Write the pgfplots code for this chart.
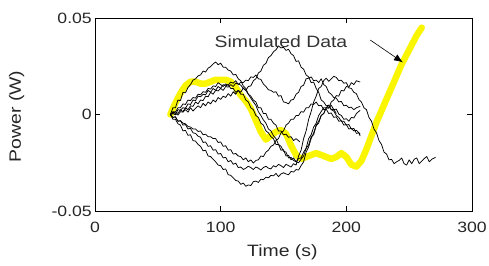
\documentclass[border=0pt]{standalone}
\usepackage{pgfplots}
\pgfplotsset{compat=1.18}
\usepackage{fontspec}
\setmainfont{Liberation Sans}[FakeStretch=1.18]
\usetikzlibrary{arrows.meta}
\begin{document}
\begin{tikzpicture}
\useasboundingbox (0,0) rectangle (489bp,266bp);
\begin{axis}[
  at={(95bp,55bp)}, anchor=south west,
  scale only axis, width=377bp, height=193bp,
  xmin=0, xmax=300, ymin=-0.05, ymax=0.05,
  scaled y ticks=false, scaled x ticks=false,
  xtick={0,100,200,300}, ytick={-0.05,0,0.05},
  xticklabels={0,100,200,300}, yticklabels={-0.05,0,0.05},
  tick align=inside, major tick length=5bp,
  tick style={black, line width=0.6bp},
  axis line style={black, line width=0.8bp},
  xticklabel style={anchor=north, inner sep=0pt, yshift=-11bp, text=black!85, font=\fontsize{15}{15}\selectfont},
  yticklabel style={anchor=east, inner sep=0pt, xshift=-3bp, text=black!85, font=\fontsize{15}{15}\selectfont},
  /pgf/number format/assume math mode=true,
  xlabel={Time (s)}, ylabel={Power (W)},
  xlabel style={at={(axis description cs:0.497,-0.212)}, anchor=center, inner sep=0pt, text=black!85, font=\fontsize{16.5}{16.5}\selectfont},
  ylabel style={at={(axis description cs:-0.208,0.49)}, anchor=center, inner sep=0pt, text=black!85, font=\fontsize{16.5}{16.5}\selectfont},
  every axis plot/.append style={no markers, line join=round},
  clip=false,
]
% simulated data (yellow)
\addplot[color={rgb,255:red,250;green,245;blue,0}, line width=6.5bp, line cap=round] coordinates {
(60,0)(64,.006)(68,.011)(72,.015)(76,.017)(80,.017)(84,.016)(88,.016)(92,.017)(96,.018)(100,.018)(104,.018)(108,.017)(112,.014)(116,.010)(120,.007)(124,.003)(128,-.003)(132,-.009)(136,-.013)(140,-.011)(144,-.009)(148,-.008)(152,-.010)(156,-.016)(160,-.021)(164,-.023)(168,-.022)(172,-.021)(176,-.020)(180,-.021)(184,-.022)(188,-.023)(192,-.022)(196,-.020)(200,-.022)(204,-.026)(208,-.027)(212,-.024)(216,-.018)(220,-.011)(224,-.004)(228,.002)(232,.008)(236,.014)(240,.020)(244,.026)(248,.031)(252,.036)(256,.041)(260,.045)
};
% C1
\addplot[black, line width=0.75bp] coordinates {
(60,0)(62,.0035)(64,.0035)(66,.0075)(68,.0072)(70,.0115)(72,.0112)(74,.0140)(76,.0155)(78,.0178)(80,.0185)(82,.0200)(84,.0205)(86,.0225)(88,.0220)(90,.0240)(92,.0248)(94,.0262)(96,.0272)(98,.0258)(100,.0266)(102,.0245)(104,.0245)(106,.0230)(108,.0225)(110,.0205)(112,.0208)(114,.0185)(116,.0175)(118,.0148)(120,.0135)(122,.0105)(124,.0085)(126,.0065)(128,.0048)(130,.0015)(132,-.0005)(134,-.0028)(136,-.0045)(138,-.0075)(140,-.0085)(142,-.0110)(144,-.0125)(146,-.0155)(148,-.0165)(150,-.0190)(152,-.0195)(154,-.0225)(156,-.0222)(158,-.0238)(160,-.0245)(162,-.0250)(164,-.0232)(166,-.0215)(168,-.0175)(170,-.0158)(172,-.0115)(174,-.0105)(176,-.0058)(178,-.0045)(180,-.0005)(182,.0005)(184,.0035)(186,.0032)(188,.0065)(190,.0075)(192,.0098)(194,.0095)(196,.0125)(198,.0122)(200,.0145)(202,.0142)(204,.0165)(206,.0155)(208,.0175)(211,.0168)
};
% C2
\addplot[black, line width=0.75bp] coordinates {
(60,0)(62,-.0025)(64,-.0025)(66,-.0048)(68,-.0055)(70,-.0085)(72,-.0082)(74,-.0108)(76,-.0105)(78,-.0135)(80,-.0138)(82,-.0155)(84,-.0165)(86,-.0188)(88,-.0185)(90,-.0215)(92,-.0218)(94,-.0232)(96,-.0245)(98,-.0262)(100,-.0265)(102,-.0285)(104,-.0282)(106,-.0312)(108,-.0315)(110,-.0328)(112,-.0342)(114,-.0345)(116,-.0362)(118,-.0355)(120,-.0372)(122,-.0365)(124,-.0368)(126,-.0348)(128,-.0345)(130,-.0352)(132,-.0335)(134,-.0338)(136,-.0325)(138,-.0328)(140,-.0315)(142,-.0318)(144,-.0305)(146,-.0322)(148,-.0308)(150,-.0302)(152,-.0308)(154,-.0312)(156,-.0295)(158,-.0298)(160,-.0285)(162,-.0288)(164,-.0265)(166,-.0245)(168,-.0195)(170,-.0168)(172,-.0125)(174,-.0095)(176,-.0055)(178,-.0035)(180,-.0005)(182,.0005)(184,.0035)(186,.0035)(188,.0048)(190,.0025)(192,.0028)(194,.0002)(196,-.0005)(198,-.0025)(200,-.0022)(202,-.0035)(204,-.0015)(206,-.0018)(208,.0005)(211,.0022)
};
% C3 (long)
\addplot[black, line width=0.75bp] coordinates {
(60,0)(62,-.0015)(64,-.0012)(66,-.0035)(68,-.0032)(70,-.0055)(72,-.0052)(74,-.0075)(76,-.0072)(78,-.0095)(80,-.0098)(82,-.0112)(84,-.0118)(86,-.0145)(88,-.0142)(90,-.0165)(92,-.0162)(94,-.0185)(96,-.0182)(98,-.0205)(100,-.0202)(102,-.0225)(104,-.0222)(106,-.0245)(108,-.0238)(110,-.0258)(112,-.0252)(114,-.0275)(116,-.0272)(118,-.0285)(120,-.0278)(122,-.0268)(124,-.0275)(126,-.0285)(128,-.0272)(130,-.0278)(132,-.0288)(134,-.0275)(136,-.0268)(138,-.0278)(140,-.0282)(142,-.0265)(144,-.0272)(146,-.0258)(148,-.0265)(150,-.0275)(152,-.0258)(154,-.0265)(156,-.0272)(158,-.0255)(160,-.0262)(162,-.0215)(164,-.0185)(166,-.0125)(168,-.0085)(170,-.0025)(172,.0015)(174,.0065)(176,.0095)(178,.0135)(180,.0145)(182,.0175)(184,.0188)(186,.0172)(188,.0185)(190,.0198)(192,.0192)(194,.0175)(196,.0178)(198,.0162)(200,.0165)(202,.0138)(204,.0135)(206,.0115)(208,.0108)(210,.0078)(212,.0065)(214,.0035)(216,.0025)(218,-.0015)(220,-.0035)(222,-.0075)(224,-.0095)(226,-.0135)(228,-.0155)(230,-.0195)(232,-.0205)(234,-.0235)(236,-.0232)(238,-.0255)(240,-.0245)(242,-.0238)(244,-.0225)(246,-.0255)(248,-.0262)(250,-.0235)(252,-.0255)(254,-.0232)(256,-.0225)(258,-.0255)(260,-.0242)(262,-.0228)(264,-.0218)(266,-.0245)(268,-.0232)(271,-.0222)
};
% C4 (peak near 147)
\addplot[black, line width=0.75bp] coordinates {
(60,0)(62,.0012)(64,.0005)(66,-.0003)(68,.0015)(70,.0012)(72,.0025)(74,.0012)(76,.0035)(78,.0018)(80,.0032)(82,.0045)(84,.0035)(86,.0058)(88,.0045)(90,.0065)(92,.0055)(94,.0075)(96,.0065)(98,.0088)(100,.0078)(102,.0095)(104,.0088)(106,.0108)(108,.0095)(110,.0118)(112,.0105)(114,.0125)(116,.0115)(118,.0138)(120,.0125)(122,.0145)(124,.0148)(126,.0175)(128,.0185)(130,.0215)(132,.0225)(134,.0255)(136,.0265)(138,.0295)(140,.0305)(142,.0325)(144,.0335)(146,.0355)(148,.0345)(150,.0348)(152,.0332)(154,.0338)(156,.0315)(158,.0305)(160,.0275)(162,.0278)(164,.0245)(166,.0235)(168,.0205)(170,.0195)(172,.0165)(174,.0168)(176,.0135)(178,.0115)(180,.0075)(182,.0065)(184,.0045)(186,.0048)(188,.0025)(190,.0018)(192,-.0005)(194,-.0015)(196,-.0035)(198,-.0035)(200,-.0055)(202,-.0052)(204,-.0075)(206,-.0072)(208,-.0098)(210,-.0095)(211,-.0112)
};
% C5
\addplot[black, line width=0.75bp] coordinates {
(60,0)(62,.0015)(64,.0012)(66,.0035)(68,.0035)(70,.0055)(72,.0052)(74,.0075)(76,.0072)(78,.0088)(80,.0085)(82,.0105)(84,.0102)(86,.0118)(88,.0115)(90,.0135)(92,.0132)(94,.0148)(96,.0145)(98,.0165)(100,.0155)(102,.0145)(104,.0158)(106,.0152)(108,.0168)(110,.0162)(112,.0175)(114,.0155)(116,.0168)(118,.0165)(120,.0178)(122,.0175)(124,.0195)(126,.0192)(128,.0205)(130,.0185)(132,.0182)(134,.0158)(136,.0145)(138,.0128)(140,.0125)(142,.0115)(144,.0118)(146,.0095)(148,.0098)(150,.0065)(152,.0062)(154,.0055)(156,.0075)(158,.0078)(160,.0105)(162,.0115)(164,.0145)(166,.0152)(168,.0185)(170,.0188)(172,.0195)(174,.0175)(176,.0178)(178,.0165)(180,.0185)(182,.0155)(184,.0145)(186,.0115)(188,.0105)(190,.0088)(192,.0085)(194,.0065)(196,.0068)(198,.0045)(200,.0048)(202,.0035)(204,.0038)(206,.0025)(208,.0035)(211,.0042)
};
% C6
\addplot[black, line width=0.75bp] coordinates {
(60,0)(62,.0005)(64,.0015)(66,.0005)(68,.0025)(70,.0015)(72,.0035)(74,.0025)(76,.0045)(78,.0042)(80,.0065)(82,.0055)(84,.0075)(86,.0072)(88,.0095)(90,.0092)(92,.0115)(94,.0105)(96,.0125)(98,.0122)(100,.0135)(102,.0125)(104,.0145)(106,.0142)(108,.0155)(110,.0145)(112,.0162)(114,.0158)(116,.0152)(118,.0135)(120,.0125)(122,.0105)(124,.0095)(126,.0075)(128,.0065)(130,.0035)(132,.0035)(134,.0005)(136,.0005)(138,-.0025)(140,-.0025)(142,-.0045)(144,-.0055)(146,-.0085)(148,-.0085)(150,-.0105)(152,-.0102)(154,-.0118)(156,-.0115)(158,-.0135)(160,-.0125)(163,-.0142)
};
% C7
\addplot[black, line width=0.75bp] coordinates {
(60,0)(62,-.0015)(64,-.0012)(66,-.0035)(68,-.0032)(70,-.0045)(72,-.0048)(74,-.0062)(76,-.0065)(78,-.0075)(80,-.0075)(82,-.0088)(84,-.0085)(86,-.0105)(88,-.0102)(90,-.0115)(92,-.0115)(94,-.0125)(96,-.0125)(98,-.0145)(100,-.0142)(102,-.0165)(104,-.0162)(106,-.0185)(108,-.0182)(110,-.0205)(112,-.0202)(114,-.0215)(116,-.0218)(118,-.0235)(120,-.0225)(122,-.0245)(124,-.0235)(126,-.0252)(128,-.0238)(130,-.0235)(132,-.0215)(134,-.0218)(136,-.0195)(138,-.0185)(140,-.0165)(142,-.0158)(144,-.0135)(146,-.0125)(148,-.0095)(150,-.0085)(152,-.0055)(154,-.0045)(156,-.0025)(158,-.0025)(160,-.0005)(162,-.0005)(164,.0015)(166,.0012)(168,.0035)(170,.0035)(172,.0055)(174,.0052)(176,.0065)(178,.0045)(180,.0048)(182,.0025)(184,.0028)(186,.0005)(188,.0008)(190,-.0015)(192,-.0012)(194,-.0035)(196,-.0032)(198,-.0055)(200,-.0052)(202,-.0075)(204,-.0072)(206,-.0085)(208,-.0082)(211,-.0102)
};
% C8
\addplot[black, line width=0.75bp] coordinates {
(60,0)(62,.0005)(64,-.0002)(66,.0025)(68,.0022)(70,.0035)(72,.0032)(74,.0055)(76,.0052)(78,.0075)(80,.0072)(82,.0095)(84,.0092)(86,.0105)(88,.0102)(90,.0125)(92,.0115)(94,.0135)(96,.0125)(98,.0145)(100,.0135)(102,.0155)(104,.0148)(106,.0155)(108,.0135)(110,.0135)(112,.0115)(114,.0125)(116,.0105)(118,.0105)(120,.0075)(122,.0065)(124,.0035)(126,.0025)(128,-.0005)(130,-.0015)(132,-.0045)(134,-.0055)(136,-.0085)(138,-.0095)(140,-.0115)(142,-.0125)(144,-.0155)(146,-.0155)(148,-.0185)(150,-.0182)(152,-.0215)(154,-.0212)(156,-.0235)(158,-.0225)(160,-.0245)(162,-.0228)(164,-.0225)(166,-.0195)(168,-.0175)(170,-.0125)(172,-.0105)(174,-.0065)(176,-.0045)(178,-.0005)(180,.0015)(182,.0035)(184,.0035)(186,.0048)(188,.0025)(190,.0028)(192,.0005)
};
\node[font=\fontsize{16.5}{16.5}\selectfont, text=black!80, anchor=center] at (axis cs:148,0.0376) {Simulated Data};
\draw[black, line width=0.6bp, -{Latex[length=9bp,width=7bp]}] (axis cs:219,0.0386) -- (axis cs:245,0.0270);
\end{axis}
\end{tikzpicture}
\end{document}
